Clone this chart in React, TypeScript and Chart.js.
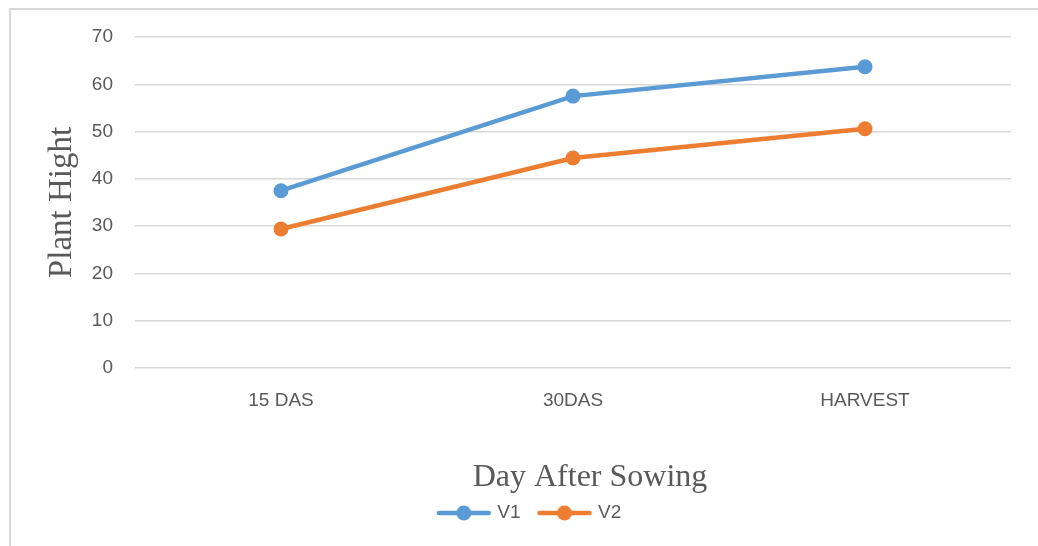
import React, { useEffect, useRef } from "react";
import { Chart, registerables } from "chart.js";

Chart.register(...registerables);

const categories = ["15 DAS", "30DAS", "HARVEST"];
const seriesV1 = [37.5, 57.5, 63.7];
const seriesV2 = [29.4, 44.4, 50.6];
const yTicks = [0, 10, 20, 30, 40, 50, 60, 70];
const seriesNames = ["V1", "V2"];
const xTitle = "Day After Sowing";
const yTitle = "Plant Hight";

const BLUE = "#5B9BD5";
const ORANGE = "#ED7D31";
const TEXT = "#595959";
const GRID = "#D9D9D9";
const SANS = "'Liberation Sans', Arial, sans-serif";
const SERIF = "'Liberation Serif', 'Times New Roman', serif";

function legendIcon(color: string): HTMLCanvasElement {
  const c = document.createElement("canvas");
  c.width = 56;
  c.height = 16;
  const ctx = c.getContext("2d")!;
  ctx.strokeStyle = color;
  ctx.lineWidth = 4.5;
  ctx.lineCap = "round";
  ctx.beginPath();
  ctx.moveTo(3, 8);
  ctx.lineTo(53, 8);
  ctx.stroke();
  ctx.fillStyle = color;
  ctx.beginPath();
  ctx.arc(28, 8, 7.5, 0, Math.PI * 2);
  ctx.fill();
  return c;
}

const legendShift = {
  id: "legendShift",
  afterLayout(chart: any) {
    const lg = chart.legend;
    if (lg) {
      lg.left += 20;
      lg.right += 20;
    }
  },
};

const xTitlePlugin = {
  id: "xTitlePlugin",
  afterDraw(chart: any) {
    const ctx = chart.ctx;
    const ca = chart.chartArea;
    const xs = chart.scales.x;
    ctx.save();
    ctx.font = `32px ${SERIF}`;
    ctx.fillStyle = TEXT;
    ctx.textAlign = "center";
    ctx.textBaseline = "middle";
    ctx.fillText(xTitle, (ca.left + ca.right) / 2 + 17, xs.bottom - 6);
    ctx.restore();
  },
};

export default function App() {
  const ref = useRef<HTMLCanvasElement>(null);

  useEffect(() => {
    if (!ref.current) return;
    const icons = [legendIcon(BLUE), legendIcon(ORANGE)];
    const mkDs = (label: string, data: number[], color: string) => ({
      label,
      data,
      borderColor: color,
      backgroundColor: color,
      borderWidth: 4.5,
      pointRadius: 7.5,
      pointHoverRadius: 7.5,
      pointBackgroundColor: color,
      pointBorderWidth: 0,
      tension: 0,
    });
    const chart = new Chart(ref.current, {
      type: "line",
      data: {
        labels: categories,
        datasets: [mkDs(seriesNames[0], seriesV1, BLUE), mkDs(seriesNames[1], seriesV2, ORANGE)],
      },
      plugins: [legendShift, xTitlePlugin],
      options: {
        animation: false,
        responsive: false,
        maintainAspectRatio: false,
        layout: { padding: { left: 10, top: 37, right: 27, bottom: 13.5 } },
        plugins: {
          tooltip: { enabled: false },
          legend: {
            position: "bottom",
            labels: {
              usePointStyle: true,
              pointStyleWidth: 48,
              padding: 20,
              color: TEXT,
              font: { family: SANS, size: 19 },
              generateLabels: (ch: any) =>
                ch.data.datasets.map((ds: any, i: number) => ({
                  text: ds.label,
                  fillStyle: ds.borderColor,
                  strokeStyle: ds.borderColor,
                  lineWidth: 0,
                  pointStyle: icons[i],
                  hidden: false,
                  datasetIndex: i,
                  fontColor: TEXT,
                })),
            },
          },
        },
        scales: {
          x: {
            offset: true,
            grid: { display: false, drawTicks: false },
            border: { display: false },
            ticks: {
              color: TEXT,
              padding: 21,
              font: { family: SANS, size: 19 },
            },
            title: { display: false },
            afterFit: (s: any) => {
              s.height = 115.5;
            },
          },
          y: {
            min: yTicks[0],
            max: yTicks[yTicks.length - 1],
            afterBuildTicks: (s: any) => {
              s.ticks = yTicks.map((v) => ({ value: v }));
            },
            grid: { color: GRID, lineWidth: 1.5, drawTicks: false },
            border: { display: false },
            ticks: {
              color: TEXT,
              padding: 22,
              font: { family: SANS, size: 19 },
            },
            title: {
              display: true,
              text: yTitle,
              color: TEXT,
              font: { family: SERIF, size: 33 },
              padding: { top: 33, bottom: 0 },
            },
            afterFit: (s: any) => {
              s.width = 125;
            },
          },
        },
      },
    });
    return () => chart.destroy();
  }, []);

  return (
    <div style={{ position: "absolute", left: 0, top: 0, width: 1038, height: 546, background: "#fff" }}>
      <div
        style={{
          position: "absolute",
          left: 9,
          top: 8,
          width: 1029,
          height: 538,
          borderLeft: `2px solid ${GRID}`,
          borderTop: `2px solid ${GRID}`,
          boxSizing: "border-box",
        }}
      />
      <canvas ref={ref} width={1038} height={546} style={{ position: "absolute", left: 0, top: 0, width: 1038, height: 546 }} />
    </div>
  );
}
